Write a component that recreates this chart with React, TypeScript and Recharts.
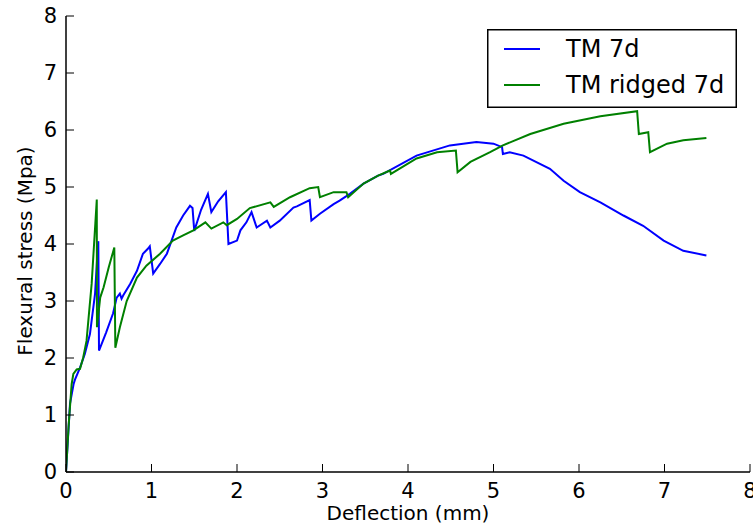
import React from 'react';
import { LineChart, Line, XAxis, YAxis, Legend, Label } from 'recharts';

const xTicks = [0, 1, 2, 3, 4, 5, 6, 7, 8];
const yTicks = [0, 1, 2, 3, 4, 5, 6, 7, 8];

const seriesNames = ['TM 7d', 'TM ridged 7d'];
const seriesColors = ['#0000ff', '#008000'];

const blueX = [0, 0.047, 0.09, 0.105, 0.164, 0.22, 0.28, 0.34, 0.37, 0.378, 0.386, 0.47, 0.55, 0.593, 0.63, 0.65, 0.67, 0.75, 0.83, 0.9, 0.96, 0.98, 1.02, 1.1, 1.18, 1.29, 1.37, 1.45, 1.48, 1.5, 1.58, 1.66, 1.7, 1.78, 1.87, 1.9, 2.0, 2.04, 2.11, 2.17, 2.23, 2.35, 2.39, 2.5, 2.66, 2.7, 2.85, 2.87, 2.97, 3.13, 3.2, 3.32, 3.48, 3.65, 3.71, 4.1, 4.49, 4.8, 5.0, 5.1, 5.11, 5.19, 5.35, 5.66, 5.82, 6.01, 6.25, 6.52, 6.75, 6.99, 7.22, 7.49];
const blueY = [0, 1.2, 1.55, 1.62, 1.83, 2.07, 2.42, 3.13, 3.9, 4.05, 2.13, 2.45, 2.78, 3.06, 3.13, 3.04, 3.1, 3.3, 3.53, 3.83, 3.92, 3.96, 3.48, 3.65, 3.83, 4.29, 4.5, 4.67, 4.63, 4.23, 4.6, 4.88, 4.56, 4.75, 4.91, 4.0, 4.06, 4.24, 4.38, 4.56, 4.29, 4.41, 4.29, 4.41, 4.64, 4.66, 4.77, 4.41, 4.53, 4.7, 4.76, 4.88, 5.06, 5.2, 5.23, 5.55, 5.73, 5.79, 5.76, 5.7, 5.58, 5.61, 5.55, 5.32, 5.11, 4.91, 4.73, 4.5, 4.32, 4.06, 3.88, 3.8];

const greenX = [0, 0.03, 0.066, 0.086, 0.125, 0.164, 0.2, 0.24, 0.3, 0.36, 0.362, 0.4, 0.44, 0.5, 0.565, 0.577, 0.63, 0.71, 0.83, 0.94, 1.1, 1.25, 1.37, 1.49, 1.63, 1.7, 1.84, 1.88, 2.0, 2.15, 2.39, 2.43, 2.62, 2.85, 2.95, 2.97, 3.13, 3.28, 3.3, 3.48, 3.65, 3.79, 3.8, 4.1, 4.34, 4.56, 4.58, 4.73, 4.96, 5.11, 5.43, 5.82, 6.25, 6.68, 6.7, 6.81, 6.83, 7.03, 7.22, 7.49];
const greenY = [0, 0.8, 1.54, 1.72, 1.8, 1.81, 2.0, 2.3, 3.3, 4.78, 2.54, 3.06, 3.24, 3.59, 3.94, 2.18, 2.54, 3.0, 3.41, 3.62, 3.83, 4.06, 4.15, 4.24, 4.38, 4.27, 4.38, 4.33, 4.44, 4.63, 4.73, 4.65, 4.82, 4.98, 5.0, 4.82, 4.91, 4.91, 4.82, 5.06, 5.2, 5.29, 5.23, 5.5, 5.61, 5.64, 5.26, 5.44, 5.61, 5.73, 5.93, 6.11, 6.24, 6.33, 5.93, 5.96, 5.61, 5.76, 5.82, 5.86];

const blueData = blueX.map((x, i) => ({ x, y: blueY[i] }));
const greenData = greenX.map((x, i) => ({ x, y: greenY[i] }));

const FONT = 'DejaVu Sans';

const LegendBox = () => (
  <svg width={250} height={79} style={{ display: 'block' }}>
    <rect x={0.75} y={0.75} width={248.5} height={77.5} fill="#fff" stroke="#000" strokeWidth={1.5} />
    {seriesNames.map((n, i) => (
      <g key={n}>
        <line x1={17} x2={53} y1={20 + i * 36} y2={20 + i * 36} stroke={seriesColors[i]} strokeWidth={2} />
        <text x={79} y={28 + i * 36} fontFamily={FONT} fontSize={24} fill="#000">{n}</text>
      </g>
    ))}
  </svg>
);

const YLabel = (props: any) => {
  const vb = props.viewBox || {};
  const cx = 25;
  const cy = (vb.y || 0) + (vb.height || 0) / 2 + 7;
  return (
    <text x={cx} y={cy} transform={`rotate(-90 ${cx} ${cy})`} textAnchor="middle" dominantBaseline="central" fontFamily={FONT} fontSize={20} fill="#000">
      Flexural stress (Mpa)
    </text>
  );
};

export default function App() {
  const tickStyle = { fontFamily: FONT, fontSize: 21, fill: '#000' };
  return (
    <div style={{ position: 'absolute', left: 0, top: 0, width: 753, height: 531, background: '#fff' }}>
      <LineChart width={753} height={531} margin={{ top: 16, right: 3, left: 0, bottom: 0 }}>
        <XAxis
          dataKey="x"
          type="number"
          domain={[0, 8]}
          ticks={xTicks}
          interval={0}
          allowDataOverflow
          height={59}
          tickSize={-8}
          tickMargin={19}
          tick={tickStyle}
          axisLine={{ stroke: '#000', strokeWidth: 1.5 }}
          tickLine={{ stroke: '#000', strokeWidth: 1 }}
        >
          <Label value="Deflection (mm)" position="insideBottom" offset={11} style={{ fontFamily: FONT, fontSize: 20, fill: '#000' }} />
        </XAxis>
        <XAxis
          xAxisId="top"
          orientation="top"
          type="number"
          domain={[0, 8]}
          ticks={xTicks}
          interval={0}
          height={0}
          tickSize={-8}
          tickFormatter={() => ''}
          axisLine={{ stroke: '#000', strokeWidth: 1.5 }}
          tickLine={{ stroke: '#000', strokeWidth: 1 }}
        />
        <YAxis
          type="number"
          domain={[0, 8]}
          ticks={yTicks}
          interval={0}
          allowDataOverflow
          width={66}
          tickSize={-8}
          tickMargin={17}
          tick={tickStyle}
          axisLine={{ stroke: '#000', strokeWidth: 1.5 }}
          tickLine={{ stroke: '#000', strokeWidth: 1 }}
        >
          <Label content={<YLabel />} />
        </YAxis>
        <YAxis
          yAxisId="right"
          orientation="right"
          type="number"
          domain={[0, 8]}
          ticks={yTicks}
          interval={0}
          width={0}
          tickSize={-8}
          tickFormatter={() => ''}
          axisLine={{ stroke: '#000', strokeWidth: 1.5 }}
          tickLine={{ stroke: '#000', strokeWidth: 1 }}
        />
        <Line data={blueData} dataKey="y" name={seriesNames[0]} stroke={seriesColors[0]} strokeWidth={2} dot={false} isAnimationActive={false} type="linear" />
        <Line data={greenData} dataKey="y" name={seriesNames[1]} stroke={seriesColors[1]} strokeWidth={2} dot={false} isAnimationActive={false} type="linear" />
        <Legend
          layout="horizontal"
          verticalAlign="middle"
          align="center"
          content={() => <LegendBox />}
          wrapperStyle={{ position: 'absolute', left: 487, top: 29, width: 250, height: 79 }}
        />
      </LineChart>
    </div>
  );
}
